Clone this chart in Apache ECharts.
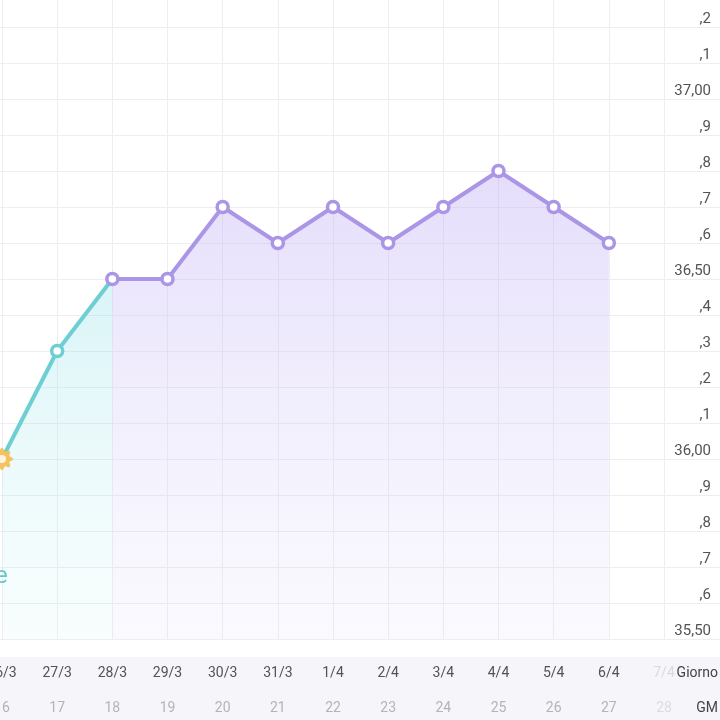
<!DOCTYPE html>
<html>
<head>
<meta charset="utf-8">
<script src="https://cdn.jsdelivr.net/npm/echarts@6/dist/echarts.min.js"></script>
<style>
html,body{margin:0;padding:0;background:#fff;}
#c{width:720px;height:720px;}
</style>
</head>
<body>
<div id="c"></div>
<script>
const dates = ['26/3','27/3','28/3','29/3','30/3','31/3','1/4','2/4','3/4','4/4','5/4','6/4','7/4'];
const cycleDays = ['16','17','18','19','20','21','22','23','24','25','26','27','28'];
const tealTemps = [36.0, 36.3, 36.5, '-', '-', '-', '-', '-', '-', '-', '-', '-', '-'];
const purpleTemps = ['-', '-', 36.5, 36.5, 36.7, 36.6, 36.7, 36.6, 36.7, 36.8, 36.7, 36.6, '-'];
const yMin = 35.5, yMax = 37.3, yStep = 0.1;

function fmt(v){
  const t = Math.round(v*10);
  const d = ((t%10)+10)%10;
  if (d===0 || d===5) return (t/10).toFixed(2).replace('.', ',');
  return ',' + d;
}
// flower symbol shape
function flowerPath(){
  let s = '';
  const n = 160;
  for (let i=0;i<=n;i++){
    const a = i/n*Math.PI*2;
    const r = 10 + 1.6*Math.cos(8*a);
    const x = (r*Math.cos(a)).toFixed(2), y = (r*Math.sin(a)).toFixed(2);
    s += (i===0?'M':'L') + x + ' ' + y + ' ';
  }
  return 'path://' + s + 'Z';
}

const lastIdx = dates.length - 1;
const chart = echarts.init(document.getElementById('c'));
const gridLine = {show:true, lineStyle:{color:'#eeeef2', width:1}};

chart.setOption({
  animation:false,
  backgroundColor:'#ffffff',
  grid:[
    {left:2, right:56, top:-9, bottom:81, outerBoundsMode:'none', containLabel:false},
    {left:0, right:0, top:-9, bottom:81, outerBoundsMode:'none', containLabel:false}
  ],
  xAxis:[
    {type:'category', gridIndex:0, data:dates, boundaryGap:false,
     axisLine:{show:false}, axisTick:{show:false}, splitLine:gridLine,
     axisLabel:{show:true, interval:0, margin:27, fontFamily:'Roboto', fontSize:14,
       hideOverlap:false, showMinLabel:true, showMaxLabel:true,
       color:(v,i)=> i===lastIdx ? '#d9d9de' : '#535357'}},
    {type:'category', gridIndex:0, data:cycleDays, boundaryGap:false, position:'bottom', offset:35,
     axisLine:{show:false}, axisTick:{show:false}, splitLine:{show:false},
     axisLabel:{show:true, interval:0, margin:27, fontFamily:'Roboto', fontSize:14,
       color:(v,i)=> i===lastIdx ? '#dcdce0' : '#b4b4b8'}},
    {type:'value', gridIndex:1, min:0, max:1, show:false}
  ],
  yAxis:[
    {type:'value', gridIndex:0, min:yMin, max:yMax, interval:yStep,
     axisLine:{show:false}, axisTick:{show:false}, axisLabel:{show:false}, splitLine:{show:false}},
    {type:'value', gridIndex:1, min:yMin, max:yMax, interval:yStep, position:'right',
     axisLine:{show:false}, axisTick:{show:false}, splitLine:gridLine,
     axisLabel:{show:true, inside:true, margin:9, fontFamily:'Roboto', fontSize:15, color:'#535357',
       verticalAlign:'bottom', padding:[0,0,0,0], formatter:fmt}}
  ],
  graphic:[
    {type:'rect', z:-10, silent:true, shape:{x:0, y:657, width:720, height:63}, style:{fill:'#f5f5fa'}},
    {type:'text', z:100, x:718, y:673, style:{text:'Giorno', align:'right', verticalAlign:'middle',
      fontFamily:'Roboto', fontSize:14, fill:'#444448', backgroundColor:'#f5f5fa', padding:[2,0,2,2]}},
    {type:'text', z:100, x:718, y:708, style:{text:'GM', align:'right', verticalAlign:'middle',
      fontFamily:'Roboto', fontSize:14, fill:'#444448', backgroundColor:'#f5f5fa', padding:[2,0,2,4]}},
    {type:'text', z:100, x:-5, y:577, style:{text:'e', align:'left', verticalAlign:'middle',
      fontFamily:'Roboto', fontSize:24, fill:'#62c8ce'}}
  ],
  series:[
    {type:'line', xAxisIndex:0, yAxisIndex:0, z:3,
     data: tealTemps.map((v,i)=>{
       if (i===0) return {value:v, symbol:flowerPath(), symbolSize:22, itemStyle:{color:'#f6c25e', borderWidth:0}};
       if (i===2) return {value:v, symbol:'none'};
       return v;
     }),
     symbol:'circle', symbolSize:11, connectNulls:false,
     lineStyle:{color:'#6dcfd3', width:4},
     itemStyle:{color:'#ffffff', borderColor:'#6dcfd3', borderWidth:3.5},
     areaStyle:{origin:'start', color:new echarts.graphic.LinearGradient(0,0,0,1,[
       {offset:0, color:'rgba(125,218,228,0.42)'},
       {offset:1, color:'rgba(190,240,242,0.15)'}
     ])}
    },
    {type:'scatter', xAxisIndex:0, yAxisIndex:0, z:5, symbol:'circle', symbolSize:8,
     itemStyle:{color:'#ffffff'}, data:[[0, tealTemps[0]]]},
    {type:'line', xAxisIndex:0, yAxisIndex:0, z:4,
     data: purpleTemps, symbol:'circle', symbolSize:11, connectNulls:false,
     lineStyle:{color:'#ab95e6', width:4},
     itemStyle:{color:'#ffffff', borderColor:'#ab95e6', borderWidth:3.5},
     areaStyle:{origin:'start', color:new echarts.graphic.LinearGradient(0,0,0,1,[
       {offset:0, color:'rgba(185,168,245,0.55)'},
       {offset:1, color:'rgba(220,212,250,0.18)'}
     ])}
    }
  ]
});
</script>
</body>
</html>
